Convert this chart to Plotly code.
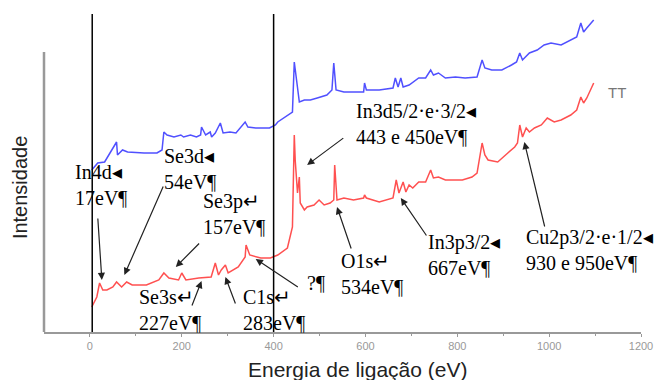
import plotly.graph_objects as go

# Binding energy (eV) and intensity (arbitrary units)
blue_x = [4, 17, 32, 58, 60, 71, 82, 118, 146, 157, 161, 168, 183, 198, 204, 219, 232, 241, 243, 252,
          262, 265, 273, 284, 290, 305, 318, 338, 344, 361, 391, 404, 409, 430, 441, 445, 452, 456,
          467, 480, 495, 516, 527, 531, 536, 553, 574, 596, 598, 602, 630, 660, 665, 671, 677, 682,
          695, 716, 731, 742, 748, 759, 774, 796, 817, 843, 854, 860, 875, 897, 918, 929, 936, 942,
          957, 963, 974, 989, 1004, 1026, 1047, 1060, 1069, 1075, 1082, 1097]
blue_y = [162, 169, 170, 190, 177, 182, 180, 179, 179, 182, 200, 197, 195, 197, 195, 197, 195, 197, 205, 197,
          200, 195, 199, 209, 199, 200, 199, 210, 205, 204, 204, 207, 210, 217, 220, 270, 245, 230,
          232, 232, 234, 237, 242, 269, 242, 240, 240, 240, 249, 242, 242, 244, 254, 245, 254, 245,
          247, 254, 254, 262, 257, 259, 254, 255, 254, 255, 272, 264, 262, 262, 267, 270, 279, 272,
          279, 280, 282, 287, 289, 287, 292, 295, 309, 300, 304, 312]

red_x = [4, 15, 21, 28, 37, 50, 58, 69, 80, 92, 123, 150, 161, 172, 193, 200, 209, 237, 264, 273,
         280, 286, 295, 301, 323, 338, 340, 348, 372, 393, 409, 430, 441, 445, 447, 452, 456, 458,
         467, 473, 488, 499, 510, 523, 531, 533, 538, 553, 574, 596, 598, 602, 630, 660, 667, 673,
         682, 688, 695, 703, 716, 731, 742, 748, 759, 774, 781, 811, 832, 843, 854, 860, 867, 888,
         910, 925, 931, 936, 942, 950, 957, 968, 983, 996, 1011, 1026, 1047, 1060, 1069, 1075, 1082, 1097]
red_y = [25, 35, 49, 42, 42, 45, 50, 45, 50, 47, 47, 52, 59, 54, 52, 59, 52, 54, 55, 69,
         57, 62, 67, 59, 65, 75, 87, 77, 74, 74, 77, 84, 105, 197, 172, 139, 155, 129,
         122, 125, 127, 132, 127, 129, 132, 167, 132, 134, 132, 134, 137, 134, 130, 134, 152, 139,
         150, 140, 147, 144, 150, 150, 162, 154, 155, 152, 152, 152, 155, 159, 189, 177, 172, 170,
         179, 185, 189, 207, 195, 204, 200, 204, 207, 214, 210, 212, 217, 222, 235, 229, 234, 249]

marker_lines = [5, 400]
tick_vals = [0, 200, 400, 600, 800, 1000, 1200]
tick_text = ["0", "200", "400", "600", "800", "1000", "1200"]

labels = ["In4d◂<br>17eV¶", "Se3d◂<br>54eV¶", "Se3p↵<br>157eV¶", "Se3s↵<br>227eV¶",
          "C1s↵<br>283eV¶", "?¶", "O1s↵<br>534eV¶", "In3p3/2◂<br>667eV¶",
          "Cu2p3/2·e·1/2◂<br>930 e 950eV¶", "In3d5/2·e·3/2◂<br>443 e 450eV¶"]
label_x = [-37, 157, 241, 103, 329, 469, 542, 731, 946, 576]
label_y = [147, 163, 118, 22, 22, 49, 58, 77, 82, 208]
arrow_tail_x = [17, 161, 241, 221, 318, 456, 570, 735, 991, 555]
arrow_tail_y = [115, 147, 90, 25, 27, 44, 82, 95, 104, 195]
arrow_head_x = [26, 75, 187, 243, 295, 361, 538, 677, 946, 473]
arrow_head_y = [52, 57, 65, 51, 55, 73, 125, 134, 190, 167]

fig = go.Figure()
fig.add_trace(go.Scatter(x=blue_x, y=blue_y, mode="lines",
                         line=dict(color="#5050ff", width=1.5), showlegend=False))
fig.add_trace(go.Scatter(x=red_x, y=red_y, mode="lines",
                         line=dict(color="#ff5050", width=1.5), showlegend=False))

shapes = []
for xv in marker_lines:
    shapes.append(dict(type="line", xref="x", yref="y", x0=xv, x1=xv, y0=0, y1=318,
                       line=dict(color="black", width=1.5)))
shapes.append(dict(type="line", xref="paper", yref="y", x0=0, x1=0, y0=0, y1=280,
                   line=dict(color="#999999", width=2.5)))

annotations = []
for t, x, y in zip(labels, label_x, label_y):
    annotations.append(dict(x=x, y=y, xref="x", yref="y", text=t, showarrow=False,
                            xanchor="left", yanchor="middle", align="left",
                            font=dict(family="Liberation Serif", size=20, color="black")))
for tx, ty, hx, hy in zip(arrow_tail_x, arrow_tail_y, arrow_head_x, arrow_head_y):
    annotations.append(dict(x=hx, y=hy, ax=tx, ay=ty, xref="x", yref="y", axref="x", ayref="y",
                            text="", showarrow=True, arrowhead=2, arrowsize=1.2, arrowwidth=1.2,
                            arrowcolor="#222222"))
annotations.append(dict(x=1148, y=240, xref="x", yref="y", text="TT", showarrow=False,
                        font=dict(family="Liberation Sans", size=15, color="#777777")))
annotations.append(dict(x=583, y=-0.118, xref="x", yref="paper", text="Energia de ligação (eV)",
                        showarrow=False, yanchor="middle",
                        font=dict(family="Liberation Sans", size=21, color="#222222")))
annotations.append(dict(x=-0.04, y=144, xref="paper", yref="y", text="Intensidade",
                        showarrow=False, textangle=-90, xanchor="center", yanchor="middle",
                        font=dict(family="Liberation Sans", size=20, color="#222222")))

fig.update_layout(
    width=663, height=380,
    margin=dict(l=44, r=15, t=10, b=48),
    plot_bgcolor="white", paper_bgcolor="white",
    shapes=shapes, annotations=annotations,
    showlegend=False,
)
fig.update_xaxes(range=[-100, 1200], tickvals=tick_vals, ticktext=tick_text,
                 showgrid=False, zeroline=False, showline=True, linecolor="#999999", linewidth=1.5,
                 ticks="outside", ticklen=3, tickcolor="#999999",
                 minor=dict(tickvals=[100, 300, 500, 700, 900, 1100], ticks="outside", ticklen=2,
                            tickcolor="#999999"),
                 tickfont=dict(family="Liberation Sans", size=11, color="#999999"))
fig.update_yaxes(range=[0, 322], showgrid=False, zeroline=False, showline=False,
                 showticklabels=False, ticks="")

fig.write_html("out.html")
